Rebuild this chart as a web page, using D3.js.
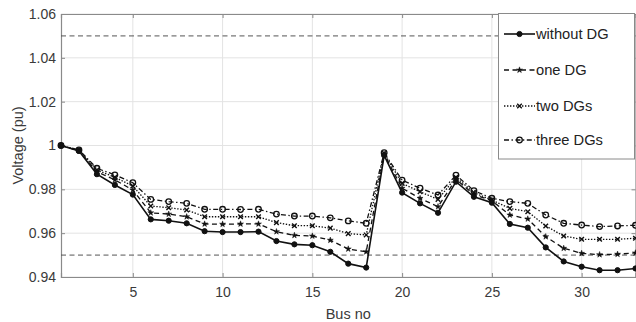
<!DOCTYPE html>
<html>
<head>
<meta charset="utf-8">
<script src="https://cdn.jsdelivr.net/npm/d3@7"></script>
<style>
  body { margin: 0; background: #fff; }
  svg text { font-family: "Liberation Sans", Arial, sans-serif; }
</style>
</head>
<body>
<svg id="chart"></svg>
<script>
var width = 636;
var height = 322;

var buses = d3.range(1, 34);
var withoutDG = [1.000, 0.9975, 0.9869, 0.9820, 0.9776, 0.9663, 0.9657, 0.9645, 0.9609, 0.9605,
    0.9605, 0.9607, 0.9564, 0.9549, 0.9545, 0.9515, 0.9461, 0.9443, 0.9955, 0.9785,
    0.9736, 0.9693, 0.9835, 0.9766, 0.9739, 0.9642, 0.9625, 0.9535, 0.9471, 0.9447,
    0.9431, 0.9431, 0.9439];
var oneDG = [1.000, 0.9976, 0.9880, 0.9843, 0.9797, 0.9693, 0.9687, 0.9675, 0.9642, 0.9641,
    0.9642, 0.9642, 0.9607, 0.9590, 0.9587, 0.9568, 0.9528, 0.9515, 0.9960, 0.9805,
    0.9759, 0.9721, 0.9846, 0.9776, 0.9748, 0.9683, 0.9665, 0.9584, 0.9531, 0.9508,
    0.9502, 0.9504, 0.9510];
var twoDGs = [1.000, 0.9978, 0.9888, 0.9855, 0.9815, 0.9724, 0.9716, 0.9706, 0.9675, 0.9675,
    0.9675, 0.9675, 0.9648, 0.9634, 0.9634, 0.9623, 0.9598, 0.9592, 0.9964, 0.9827,
    0.9789, 0.9754, 0.9855, 0.9785, 0.9751, 0.9713, 0.9698, 0.9633, 0.9587, 0.9572,
    0.9572, 0.9572, 0.9577];
var threeDGs = [1.000, 0.9980, 0.9896, 0.9866, 0.9830, 0.9754, 0.9744, 0.9736, 0.9709, 0.9709,
    0.9708, 0.9709, 0.9687, 0.9678, 0.9678, 0.9670, 0.9656, 0.9645, 0.9967, 0.9842,
    0.9805, 0.9774, 0.9865, 0.9794, 0.9759, 0.9744, 0.9736, 0.9683, 0.9645, 0.9637,
    0.9630, 0.9633, 0.9636];

var seriesNames = ["without DG", "one DG", "two DGs", "three DGs"];
var limits = [1.05, 0.95];
var xTicks = [5, 10, 15, 20, 25, 30];
var yTicks = [0.94, 0.96, 0.98, 1, 1.02, 1.04, 1.06];

var series = [
    {name: seriesNames[0], values: withoutDG, dash: null, marker: "dot"},
    {name: seriesNames[1], values: oneDG, dash: "5,3.5", marker: "star"},
    {name: seriesNames[2], values: twoDGs, dash: "1.4,1.6", marker: "cross"},
    {name: seriesNames[3], values: threeDGs, dash: "5,2.5,1.4,2.5", marker: "ring"}
];

var plotL = 61, plotR = 635.5, plotT = 14, plotB = 277;

var x = d3.scaleLinear().domain([1, 33]).range([plotL, plotR]);
var y = d3.scaleLinear().domain([0.94, 1.06]).range([plotB, plotT]);

var svg = d3.select("#chart")
    .attr("width", width)
    .attr("height", height);

// grid
svg.append("g")
    .selectAll("line")
    .data(xTicks)
    .enter().append("line")
    .attr("x1", function(d) { return x(d); })
    .attr("x2", function(d) { return x(d); })
    .attr("y1", plotT).attr("y2", plotB)
    .attr("stroke", "#e3e3e3").attr("stroke-width", 1);

svg.append("g")
    .selectAll("line")
    .data(yTicks)
    .enter().append("line")
    .attr("x1", plotL).attr("x2", plotR)
    .attr("y1", function(d) { return y(d); })
    .attr("y2", function(d) { return y(d); })
    .attr("stroke", "#e3e3e3").attr("stroke-width", 1);

// axes
var xAxis = svg.append("g")
    .attr("transform", "translate(0," + plotB + ")")
    .call(d3.axisBottom(x).tickValues(xTicks).tickSize(-4).tickPadding(10));
var xAxisTop = svg.append("g")
    .attr("transform", "translate(0," + plotT + ")")
    .call(d3.axisTop(x).tickValues(xTicks).tickSize(-4).tickFormat(""));
var yAxis = svg.append("g")
    .attr("transform", "translate(" + plotL + ",0)")
    .call(d3.axisLeft(y).tickValues(yTicks).tickSize(-4).tickPadding(5)
        .tickFormat(function(d) { return String(+d.toFixed(2)); }));
var yAxisRight = svg.append("g")
    .attr("transform", "translate(" + plotR + ",0)")
    .call(d3.axisRight(y).tickValues(yTicks).tickSize(-4).tickFormat(""));

[xAxis, xAxisTop, yAxis, yAxisRight].forEach(function(a) {
    a.select(".domain").attr("stroke", "#8a8a8a").attr("stroke-width", 1.2);
    a.selectAll(".tick line").attr("stroke", "#8a8a8a");
    a.selectAll(".tick text")
        .attr("fill", "#3a3a3a")
        .style("font-size", "14px");
});

// limit lines
svg.append("g")
    .selectAll("line")
    .data(limits)
    .enter().append("line")
    .attr("x1", plotL).attr("x2", plotR)
    .attr("y1", function(d) { return y(d); })
    .attr("y2", function(d) { return y(d); })
    .attr("stroke", "#555").attr("stroke-width", 1)
    .attr("stroke-dasharray", "5,3.5");

// markers
function drawMarker(g, type, cx, cy) {
    if (type === "dot") {
        g.append("circle").attr("cx", cx).attr("cy", cy).attr("r", 2.6)
            .attr("fill", "#111").attr("stroke", "#111");
    } else if (type === "ring") {
        g.append("circle").attr("cx", cx).attr("cy", cy).attr("r", 2.8)
            .attr("fill", "none").attr("stroke", "#111").attr("stroke-width", 1.3);
    } else if (type === "cross") {
        g.append("path")
            .attr("d", "M" + (cx - 2.3) + "," + (cy - 2.3) + "L" + (cx + 2.3) + "," + (cy + 2.3) +
                "M" + (cx - 2.3) + "," + (cy + 2.3) + "L" + (cx + 2.3) + "," + (cy - 2.3))
            .attr("stroke", "#111").attr("stroke-width", 1.4).attr("fill", "none");
    } else if (type === "star") {
        g.append("path")
            .attr("d", d3.symbol().type(d3.symbolStar).size(11)())
            .attr("transform", "translate(" + cx + "," + cy + ")")
            .attr("fill", "#111").attr("stroke", "#111").attr("stroke-width", 0.5);
    }
}

var line = d3.line()
    .x(function(d, i) { return x(buses[i]); })
    .y(function(d) { return y(d); });

series.slice().reverse().forEach(function(s) {
    var g = svg.append("g");
    g.append("path")
        .attr("d", line(s.values))
        .attr("fill", "none")
        .attr("stroke", "#111")
        .attr("stroke-width", s.marker === "dot" ? 1.6 : 1.3)
        .attr("stroke-dasharray", s.dash);
    s.values.forEach(function(v, i) {
        drawMarker(g, s.marker, x(buses[i]), y(v));
    });
});

// axis titles
svg.append("text")
    .attr("x", (plotL + plotR) / 2).attr("y", 319)
    .attr("text-anchor", "middle")
    .attr("fill", "#3a3a3a")
    .style("font-size", "14.5px")
    .text("Bus no");

svg.append("text")
    .attr("transform", "translate(23," + ((plotT + plotB) / 2) + ") rotate(-90)")
    .attr("text-anchor", "middle")
    .attr("fill", "#3a3a3a")
    .style("font-size", "14.5px")
    .text("Voltage (pu)");

// legend
var legend = svg.append("g");
legend.append("rect")
    .attr("x", 498.5).attr("y", 13.5)
    .attr("width", 136).attr("height", 145.5)
    .attr("fill", "#fff").attr("stroke", "#8a8a8a").attr("stroke-width", 1);

var legendY = [34, 70, 106, 140];
series.forEach(function(s, i) {
    var ly = legendY[i];
    legend.append("line")
        .attr("x1", 504).attr("x2", 535)
        .attr("y1", ly).attr("y2", ly)
        .attr("stroke", "#111")
        .attr("stroke-width", s.marker === "dot" ? 1.6 : 1.3)
        .attr("stroke-dasharray", s.dash);
    drawMarker(legend, s.marker, 519.5, ly);
    legend.append("text")
        .attr("x", 536).attr("y", ly + 5)
        .attr("fill", "#222")
        .style("font-size", "14.7px")
        .text(s.name);
});
</script>
</body>
</html>
